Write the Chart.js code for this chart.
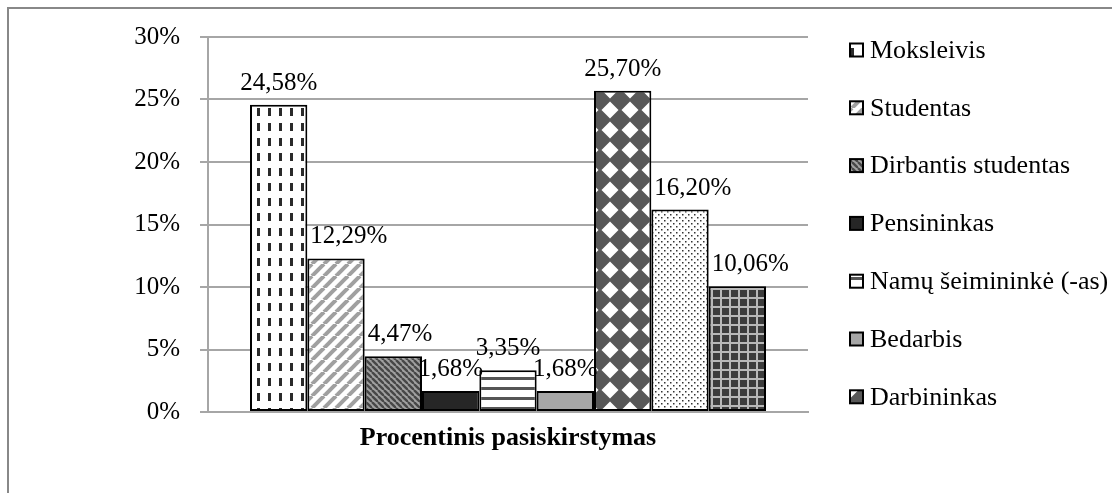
<!DOCTYPE html>
<html><head><meta charset="utf-8">
<script src="https://cdn.jsdelivr.net/npm/chart.js@4.4.1/dist/chart.umd.min.js"></script>
<style>html,body{margin:0;padding:0;background:#fff;overflow:hidden}#wrap{position:relative;width:1112px;height:493px}</style>
</head><body><div id="wrap"><canvas id="c" width="1112" height="493"></canvas></div>
<script>
const categories = ['Procentinis pasiskirstymas'];
const seriesNames = ['Moksleivis', 'Studentas', 'Dirbantis studentas', 'Pensininkas', 'Namų šeimininkė (-as)', 'Bedarbis', 'Darbininkas', 'Kita', 'Kita (2)'];
const seriesValues = [24.58, 12.29, 4.47, 1.68, 3.35, 1.68, 25.70, 16.20, 10.06];
const legendCount = 7;
const yTicks = [0, 5, 10, 15, 20, 25, 30];

const canvas = document.getElementById('c');
const mctx = canvas.getContext('2d');
function mk(w, h, draw) {
  const t = document.createElement('canvas'); t.width = w; t.height = h;
  const x = t.getContext('2d'); draw(x, w, h);
  return mctx.createPattern(t, 'repeat');
}
const patterns = [
  mk(11, 15, (x, w, h) => { x.fillStyle = '#fff'; x.fillRect(0, 0, w, h); x.fillStyle = '#2a2a2a'; x.fillRect(4, 3, 3, 8); }),
  mk(12, 12, (x, p) => { x.fillStyle = '#fff'; x.fillRect(0, 0, p, p); x.strokeStyle = '#a0a0a0'; x.lineWidth = 4;
    for (const k of [-p, 0, p]) { x.beginPath(); x.moveTo(k, p); x.lineTo(k + p, 0); x.stroke(); } }),
  mk(6, 6, (x, p) => { x.fillStyle = '#a0a0a0'; x.fillRect(0, 0, p, p); x.strokeStyle = '#474747'; x.lineWidth = 2.4;
    for (const k of [-p, 0, p]) { x.beginPath(); x.moveTo(k, 0); x.lineTo(k + p, p); x.stroke(); } }),
  '#262626',
  mk(10, 10, (x, w, h) => { x.fillStyle = '#fff'; x.fillRect(0, 0, w, h); x.fillStyle = '#555'; x.fillRect(0, 7, w, 3); }),
  '#a6a6a6',
  mk(20, 20, (x) => { x.fillStyle = '#585858'; x.fillRect(0, 0, 20, 20); x.fillStyle = '#fff';
    x.beginPath(); x.moveTo(10, 1.5); x.lineTo(18.5, 10); x.lineTo(10, 18.5); x.lineTo(1.5, 10); x.closePath(); x.fill(); }),
  mk(6, 6, (x) => { x.fillStyle = '#fff'; x.fillRect(0, 0, 6, 6); x.fillStyle = '#333'; x.fillRect(1, 1, 1.5, 1.5); x.fillRect(4, 4, 1.5, 1.5); }),
  mk(9, 9, (x) => { x.fillStyle = '#3c3c3c'; x.fillRect(0, 0, 9, 9); x.fillStyle = '#b8b8b8'; x.fillRect(0, 0, 9, 2); x.fillRect(0, 0, 2, 9); })
];

const datasets = seriesValues.map((v, i) => ({
  label: seriesNames[i], data: [v], backgroundColor: patterns[i],
  borderColor: '#000', borderWidth: 2, borderSkipped: false,
  categoryPercentage: 0.86, barPercentage: 1
}));

const fmt = v => v.toFixed(2).replace('.', ',') + '%';
const serif = '"Liberation Serif", "Times New Roman", serif';

const framePlugin = {
  id: 'frame',
  beforeDraw(chart) {
    const c = chart.ctx; c.save();
    c.fillStyle = '#fff'; c.fillRect(0, 0, chart.width, chart.height);
    c.strokeStyle = '#888'; c.lineWidth = 2;
    c.beginPath(); c.moveTo(8, 493); c.lineTo(8, 8); c.lineTo(1112, 8); c.stroke();
    c.restore();
  }
};
const labelPlugin = {
  id: 'vlabels',
  afterDatasetsDraw(chart) {
    const c = chart.ctx; c.save();
    c.font = '25px ' + serif; c.fillStyle = '#000'; c.textAlign = 'center'; c.textBaseline = 'alphabetic';
    chart.data.datasets.forEach((ds, i) => {
      const el = chart.getDatasetMeta(i).data[0];
      const txt = fmt(ds.data[0]);
      const w = c.measureText(txt).width;
      const base = el.y - 15;
      let x = el.x;
      if (i > 0) {
        const prev = chart.getDatasetMeta(i - 1).data[0];
        const prevRight = prev.x + prev.width / 2;
        if (prev.y < base - 25 && prevRight - (x - w / 2) > 0) x = prevRight + 3 + w / 2;
      }
      c.fillText(txt, x, base);
    });
    c.restore();
  }
};
const legendPlugin = {
  id: 'mylegend',
  afterDraw(chart) {
    const c = chart.ctx; c.save();
    c.font = '26px ' + serif; c.textBaseline = 'middle'; c.textAlign = 'left';
    for (let i = 0; i < legendCount; i++) {
      const y = 50 + i * 57.8;
      c.fillStyle = chart.data.datasets[i].backgroundColor;
      c.fillRect(850, y - 6.5, 13, 13);
      c.strokeStyle = '#000'; c.lineWidth = 2; c.strokeRect(850, y - 6.5, 13, 13);
      c.fillStyle = '#000';
      c.fillText(chart.data.datasets[i].label, 870, y + 1);
    }
    c.restore();
  }
};

new Chart(canvas, {
  type: 'bar',
  data: { labels: categories, datasets },
  options: {
    responsive: false, animation: false, devicePixelRatio: 1,
    layout: { padding: { left: 0, right: 304, top: 37, bottom: 0 } },
    plugins: { legend: { display: false }, tooltip: { enabled: false } },
    scales: {
      x: {
        grid: { display: false, drawTicks: false },
        border: { display: true, color: '#a6a6a6', width: 2 },
        ticks: { color: '#000', font: { family: serif, size: 26, weight: 'bold' }, padding: 11 },
        afterFit(s) { s.height = 81; }
      },
      y: {
        min: 0, max: 30,
        afterBuildTicks(s) { s.ticks = yTicks.map(v => ({ value: v })); },
        grid: { color: '#a6a6a6', lineWidth: 2, tickLength: 8, drawTicks: true },
        border: { display: true, color: '#a6a6a6', width: 2 },
        ticks: { color: '#000', font: { family: serif, size: 25 }, padding: 20, callback: v => v + '%' },
        afterFit(s) { s.width = 208; }
      }
    }
  },
  plugins: [framePlugin, labelPlugin, legendPlugin]
});
</script></body></html>
